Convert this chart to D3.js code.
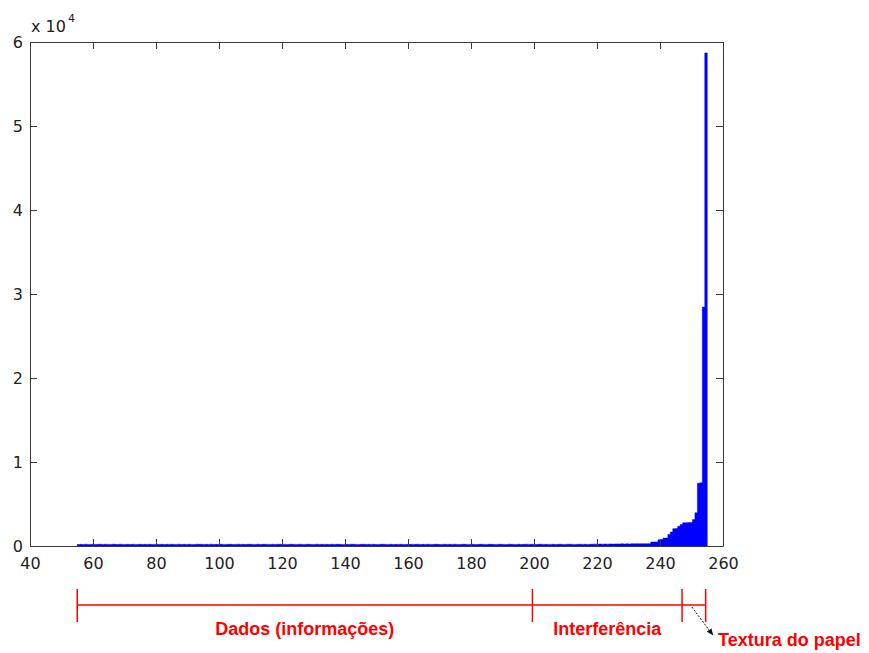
<!DOCTYPE html>
<html>
<head>
<meta charset="utf-8">
<script src="https://cdn.jsdelivr.net/npm/d3@7"></script>
<style>
  html, body { margin: 0; padding: 0; background: #fff; }
  svg { display: block; }
</style>
</head>
<body>
<svg id="chart" width="869" height="653"></svg>
<script>
// Grey-level histogram: 256 bins spanning [55, 255]
const binLow = 55;
const binHigh = 255;

// Bins 0..229 (dark tones, almost empty)
const countsLow = [
  180,195,170,205,190,185,210,175,195,200,
  185,200,190,175,205,195,180,210,190,185,
  195,180,200,190,185,205,175,195,190,200,
  175,190,205,185,195,180,200,190,210,185,
  190,205,180,195,185,200,190,175,205,195,
  200,185,195,190,210,180,195,185,200,190,
  185,195,200,180,190,205,185,195,175,200,
  195,190,185,205,180,195,200,190,185,210,
  180,200,195,185,190,175,205,195,190,185,
  205,185,190,200,195,180,190,210,185,195,
  190,195,180,205,185,200,195,175,190,200,
  185,210,195,190,180,195,205,185,200,190,
  200,180,190,195,205,185,190,200,175,195,
  190,205,185,180,195,200,185,195,210,180,
  195,185,200,190,175,205,195,180,190,200,
  185,195,190,210,185,180,200,195,185,190,
  200,190,180,195,205,190,185,200,195,175,
  190,200,195,185,180,210,195,190,185,205,
  180,195,205,190,200,185,175,195,210,190,
  195,185,190,200,185,195,205,180,190,200,
  205,190,185,195,210,190,200,185,195,215,
  220,210,225,215,230,220,240,225,235,250,
  240,255,245,260,250,265,255,270,260,275
];

// Bins 230..255 (light tones: interference and paper texture)
const countsHigh = [
  260,265,270,470,480,490,750,770,940,960,
  1360,1670,2060,2080,2350,2550,2770,2780,2800,2810,
  3140,3950,7480,7520,28450,58700
];

const counts = countsLow.concat(countsHigh);

const xTicks = [40, 60, 80, 100, 120, 140, 160, 180, 200, 220, 240, 260];
const yTicks = [0, 10000, 20000, 30000, 40000, 50000, 60000];
const yTickLabels = ["0", "1", "2", "3", "4", "5", "6"];

// Ranges marked under the axis
const rangeBounds = [55, 199.5, 247, 254.5];
const rangeNames = ["Dados (informações)", "Interferência"];
const arrowLabel = "Textura do papel";

const svg = d3.select("#chart");
const plotLeft = 30, plotRight = 723, plotTop = 42, plotBottom = 546;

const x = d3.scaleLinear().domain([40, 260]).range([plotLeft, plotRight]);
const y = d3.scaleLinear().domain([0, 60000]).range([plotBottom, plotTop]);

const binW = (binHigh - binLow) / counts.length;

// Bars, drawn as one stepped outline so adjacent bins share edges cleanly
const steps = counts.map((c, i) => ({ x0: binLow + i * binW, c }));
steps.push({ x0: binHigh, c: counts[counts.length - 1] });

svg.append("path")
  .datum(steps)
  .attr("d", d3.area()
    .curve(d3.curveStepAfter)
    .x(d => x(d.x0))
    .y0(y(0))
    .y1(d => y(d.c)))
  .attr("fill", "#0000ff")
  .attr("stroke", "#0000ff")
  .attr("stroke-width", 0.5);

const axisColor = "#3a3a3a";
const tickFont = "DejaVu Sans, sans-serif";

function styleAxis(g) {
  g.selectAll("path.domain").attr("stroke", axisColor).attr("stroke-width", 1);
  g.selectAll(".tick line").attr("stroke", axisColor).attr("stroke-width", 1);
  g.selectAll(".tick text").attr("fill", "#222").style("font-family", tickFont).style("font-size", "16px");
}

// Bottom axis
svg.append("g")
  .attr("transform", `translate(0,${plotBottom})`)
  .call(d3.axisBottom(x).tickValues(xTicks).tickSizeInner(-7).tickSizeOuter(0).tickPadding(12))
  .call(styleAxis);

// Left axis
svg.append("g")
  .attr("transform", `translate(${plotLeft},0)`)
  .call(d3.axisLeft(y).tickValues(yTicks).tickFormat((d, i) => yTickLabels[i]).tickSizeInner(-7).tickSizeOuter(0).tickPadding(7))
  .call(styleAxis);

// Top frame
svg.append("g")
  .attr("transform", `translate(0,${plotTop})`)
  .call(d3.axisTop(x).tickValues(xTicks).tickFormat("").tickSizeInner(-7).tickSizeOuter(0))
  .call(styleAxis);

// Right frame
svg.append("g")
  .attr("transform", `translate(${plotRight},0)`)
  .call(d3.axisRight(y).tickValues(yTicks).tickFormat("").tickSizeInner(-7).tickSizeOuter(0))
  .call(styleAxis);

// Exponent label
const expo = svg.append("text")
  .attr("x", 31).attr("y", 32)
  .attr("fill", "#222")
  .style("font-family", tickFont).style("font-size", "16px");
expo.append("tspan").text("x 10");
expo.append("tspan").attr("dx", 2).attr("dy", -10).style("font-size", "11px").text("4");

// Range brackets
const red = "#ff0000";
const bracketY = 605;
const ann = svg.append("g");
ann.append("line")
  .attr("x1", x(rangeBounds[0])).attr("x2", x(rangeBounds[rangeBounds.length - 1]))
  .attr("y1", bracketY).attr("y2", bracketY)
  .attr("stroke", red).attr("stroke-width", 1.5);
ann.selectAll("line.tick")
  .data(rangeBounds)
  .join("line")
  .attr("class", "tick")
  .attr("x1", d => x(d)).attr("x2", d => x(d))
  .attr("y1", bracketY - 16).attr("y2", bracketY + 17)
  .attr("stroke", red).attr("stroke-width", 1.5);

ann.selectAll("text.range")
  .data(rangeNames)
  .join("text")
  .attr("class", "range")
  .attr("x", (d, i) => (x(rangeBounds[i]) + x(rangeBounds[i + 1])) / 2)
  .attr("y", 635)
  .attr("text-anchor", "middle")
  .attr("fill", red)
  .style("font-family", "Liberation Sans, Arial, sans-serif")
  .style("font-weight", "bold")
  .style("font-size", "18px")
  .text(d => d);

// Arrow pointing from the last range to its label
svg.append("defs").append("marker")
  .attr("id", "head")
  .attr("viewBox", "0 0 10 10")
  .attr("refX", 9).attr("refY", 5)
  .attr("markerWidth", 7).attr("markerHeight", 7)
  .attr("orient", "auto")
  .append("path")
  .attr("d", "M0,1 L10,5 L0,9 Z")
  .attr("fill", "#111");

const ax0 = (x(rangeBounds[2]) + x(rangeBounds[3])) / 2 - 2;
ann.append("line")
  .attr("x1", ax0).attr("y1", bracketY + 2)
  .attr("x2", ax0 + 21).attr("y2", bracketY + 30)
  .attr("stroke", "#111").attr("stroke-width", 1)
  .attr("stroke-dasharray", "2,1.5")
  .attr("marker-end", "url(#head)");

ann.append("text")
  .attr("x", 718).attr("y", 646)
  .attr("fill", red)
  .style("font-family", "Liberation Sans, Arial, sans-serif")
  .style("font-weight", "bold")
  .style("font-size", "18px")
  .text(arrowLabel);
</script>
</body>
</html>
